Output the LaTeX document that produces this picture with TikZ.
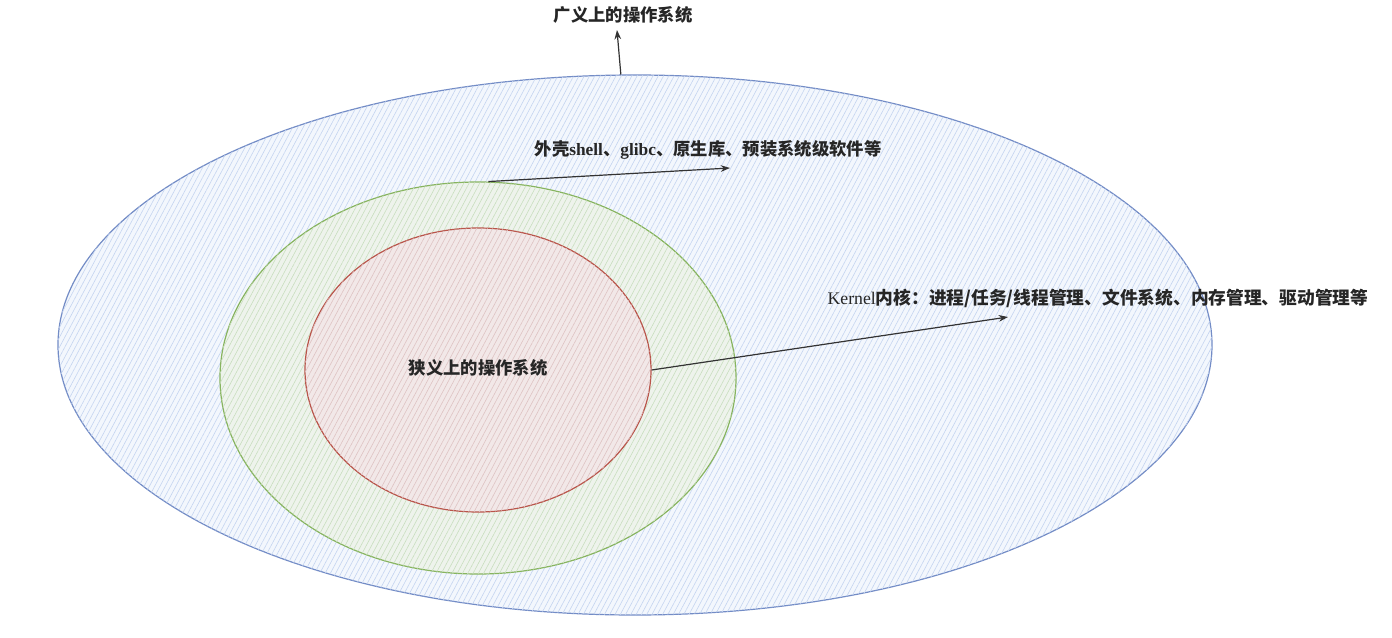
\documentclass[tikz,border=0pt]{standalone}
\usepackage{fontspec}
\setmainfont{Liberation Serif}
\newfontfamily\cjk{Noto Sans CJK SC}
\usepackage{tikz}
\usetikzlibrary{shapes.geometric}
\usetikzlibrary{patterns.meta}
\usetikzlibrary{arrows.meta}

\definecolor{outerline}{RGB}{115,140,198}
\definecolor{outerfill}{RGB}{243,247,253}
\definecolor{outerhatch}{RGB}{196,212,240}
\definecolor{midline}{RGB}{135,180,95}
\definecolor{midfill}{RGB}{238,243,236}
\definecolor{midhatch}{RGB}{200,222,190}
\definecolor{inline}{RGB}{185,85,75}
\definecolor{infill}{RGB}{242,232,232}
\definecolor{inhatch}{RGB}{222,195,195}

\tikzset{
  layer/.style={ellipse, inner sep=0pt, line width=0.9pt},
  label/.style={font=\cjk\bfseries\fontsize{13}{15}\selectfont, text=black!85, inner sep=0pt},
  pointer/.style={-{Stealth[length=7pt,width=5pt]}, line width=0.9pt, black!80},
}

\begin{document}
\begin{tikzpicture}[x=0.75pt,y=0.75pt,yscale=-1,xscale=1]
  \useasboundingbox (0,0) rectangle (1392,638);
  % three layers, outer first
  \node (outer) at (635,345) [layer, draw=outerline, minimum width=1154*0.75pt, minimum height=540*0.75pt,
     fill=outerfill, postaction={pattern={Lines[angle=62,distance=3.5pt,line width=0.45pt]}, pattern color=outerhatch}] {};
  \node (middle) at (478,378) [layer, draw=midline, minimum width=516*0.75pt, minimum height=392*0.75pt,
     fill=midfill, postaction={pattern={Lines[angle=62,distance=3.5pt,line width=0.45pt]}, pattern color=midhatch}] {};
  \node (inner) at (478,370) [layer, draw=inline, minimum width=346*0.75pt, minimum height=284*0.75pt,
     fill=infill, postaction={pattern={Lines[angle=62,distance=3.5pt,line width=0.45pt]}, pattern color=inhatch}] {};
  % labels
  \node (wide)   at (623,15)  [label] {广义上的操作系统};
  \node (shell)  at (708,150) [label] {外壳{\rmfamily shell}、{\rmfamily glibc}、原生库、预装系统级软件等};
  \node (kernel) at (1098,298) [label, font=\cjk\bfseries\fontsize{13.3}{15}\selectfont] {{\rmfamily\mdseries Kernel}内核：进程/任务/线程管理、文件系统、内存管理、驱动管理等};
  \node (narrow) at (478,368) [label] {狭义上的操作系统};
  % arrow ends
  \coordinate (widetip)   at (617,30);
  \coordinate (shelltip)  at (730,168);
  \coordinate (kerneltip) at (1008,317);
  \draw [pointer] (outer.93.4) -- (widetip);
  \draw [pointer] (middle.87) -- (shelltip);
  \draw [pointer] (inner.east) -- (kerneltip);
\end{tikzpicture}
\end{document}
